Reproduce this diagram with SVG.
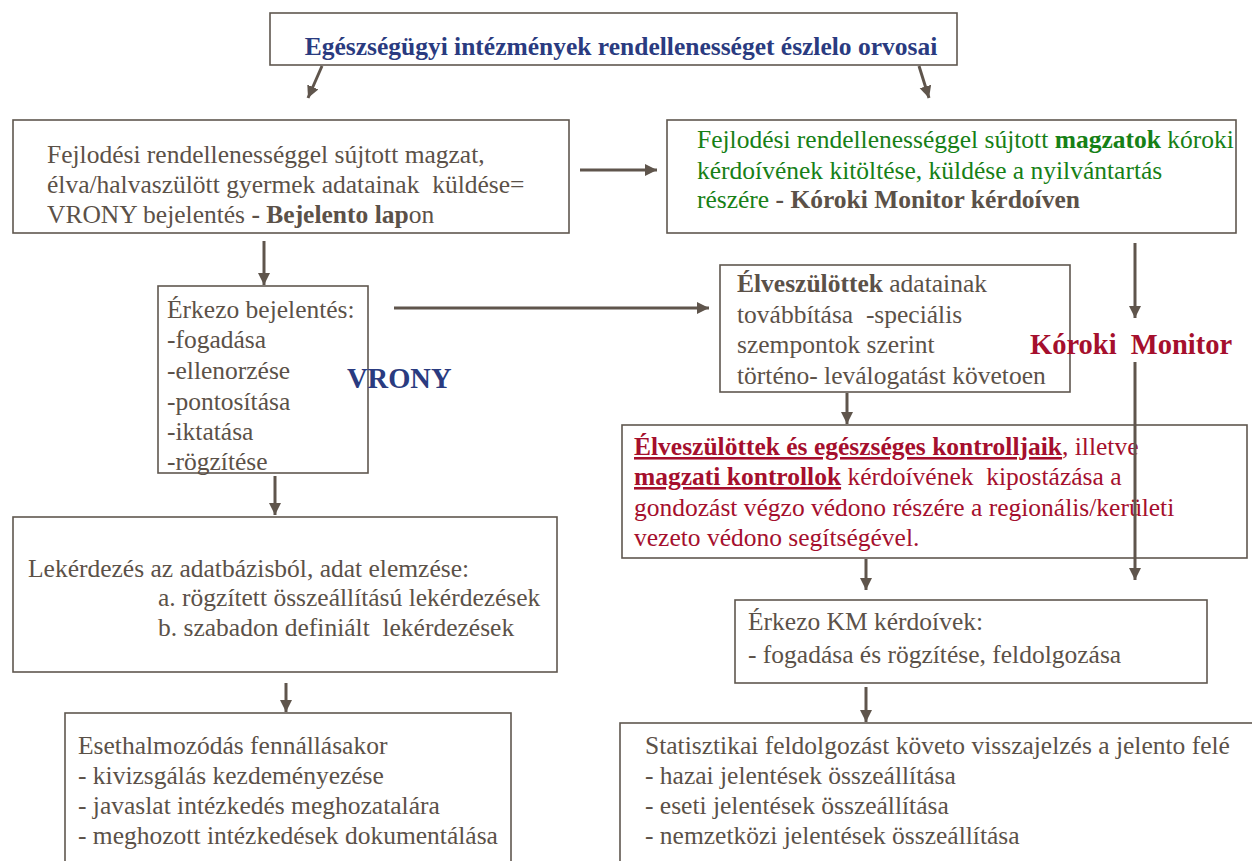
<svg xmlns="http://www.w3.org/2000/svg" width="1252" height="861" viewBox="0 0 1252 861">
<defs>
<style>
.box{fill:#fff;stroke:#5f574f;stroke-width:1.6}
.t{font-family:'Liberation Serif','Times New Roman',Tinos,'DejaVu Serif',serif;font-size:25.5px;font-weight:normal;fill:#5b5148}
.b{font-weight:bold}
.navy{fill:#2a3b80}
.green{fill:#168016}
.red{fill:#a50f2d}
.con{stroke:#5f554c;stroke-width:3;fill:none;marker-end:url(#ah)}
</style>
<marker id="ah" markerUnits="userSpaceOnUse" markerWidth="14" markerHeight="14" refX="12" refY="6" orient="auto"><path d="M0,0 L12,6 L0,12 Z" fill="#5f554c"/></marker>
</defs>
<rect width="1252" height="861" fill="#fff"/>
<g id="n-top">
<rect class="box" x="270" y="13" width="687" height="52"/>
<text class="t b navy" x="621" y="55" text-anchor="middle">Egészségügyi intézmények rendellenességet észlelo orvosai</text>
</g>
<g id="n-bejelentes">
<rect class="box" x="13" y="120" width="556" height="113"/>
<text class="t" x="47" y="163">Fejlodési rendellenességgel sújtott magzat,</text>
<text class="t" x="47" y="193" xml:space="preserve">élva/halvaszülött gyermek adatainak  küldése=</text>
<text class="t" x="47" y="223">VRONY bejelentés <tspan class="b">- Bejelento lap</tspan>on</text>
</g>
<g id="n-koroki-kerdoiv">
<rect class="box" x="667" y="120" width="569" height="113"/>
<text class="t green" x="697" y="148">Fejlodési rendellenességgel sújtott <tspan class="b">magzatok</tspan> kóroki</text>
<text class="t green" x="697" y="179">kérdoívének kitöltése, küldése a nyilvántartás</text>
<text class="t green" x="697" y="208">részére <tspan class="b" fill="#5b5148">- Kóroki Monitor kérdoíven</tspan></text>
</g>
<g id="n-erkezo">
<rect class="box" x="158" y="286" width="210" height="187"/>
<text class="t" x="167" y="318">Érkezo bejelentés:</text>
<text class="t" x="167" y="348">-fogadása</text>
<text class="t" x="167" y="379">-ellenorzése</text>
<text class="t" x="167" y="410">-pontosítása</text>
<text class="t" x="167" y="440">-iktatása</text>
<text class="t" x="167" y="470">-rögzítése</text>
</g>
<g id="n-elveszulottek">
<rect class="box" x="720" y="265" width="350" height="127"/>
<text class="t" x="737" y="292"><tspan class="b">Élveszülöttek</tspan> adatainak</text>
<text class="t" x="737" y="323" xml:space="preserve">továbbítása  -speciális</text>
<text class="t" x="737" y="353">szempontok szerint</text>
<text class="t" x="737" y="384">történo- leválogatást követoen</text>
</g>
<g id="n-kontrollok">
<rect class="box" x="622" y="425" width="625" height="133"/>
<text class="t red" x="634" y="455"><tspan class="b" text-decoration="underline">Élveszülöttek és egészséges kontrolljaik</tspan>, illetve</text>
<text class="t red" x="634" y="485" xml:space="preserve"><tspan class="b" text-decoration="underline">magzati kontrollok</tspan> kérdoívének  kipostázása a</text>
<text class="t red" x="634" y="516">gondozást végzo védono részére a regionális/kerületi</text>
<text class="t red" x="634" y="546">vezeto védono segítségével.</text>
</g>
<g id="n-lekerdezes">
<rect class="box" x="13" y="517" width="544" height="155"/>
<text class="t" x="28" y="577">Lekérdezés az adatbázisból, adat elemzése:</text>
<text class="t" x="158" y="606">a. rögzített összeállítású lekérdezések</text>
<text class="t" x="158" y="636" xml:space="preserve">b. szabadon definiált  lekérdezések</text>
</g>
<g id="n-km-kerdoivek">
<rect class="box" x="735" y="600" width="472" height="83"/>
<text class="t" x="748" y="630">Érkezo KM kérdoívek:</text>
<text class="t" x="748" y="663">- fogadása és rögzítése, feldolgozása</text>
</g>
<g id="n-esethalmozodas">
<rect class="box" x="65" y="713" width="446" height="160"/>
<text class="t" x="78" y="754">Esethalmozódás fennállásakor</text>
<text class="t" x="78" y="784">- kivizsgálás kezdeményezése</text>
<text class="t" x="78" y="814">- javaslat intézkedés meghozatalára</text>
<text class="t" x="78" y="844">- meghozott intézkedések dokumentálása</text>
</g>
<g id="n-statisztika">
<rect class="box" x="620" y="723" width="650" height="150"/>
<text class="t" x="645" y="754">Statisztikai feldolgozást követo visszajelzés a jelento felé</text>
<text class="t" x="645" y="784">- hazai jelentések összeállítása</text>
<text class="t" x="645" y="814">- eseti jelentések összeállítása</text>
<text class="t" x="645" y="844">- nemzetközi jelentések összeállítása</text>
</g>
<g id="connectors">
<line class="con" x1="322" y1="66" x2="308" y2="98"/>
<line class="con" x1="919" y1="66" x2="929" y2="98"/>
<line class="con" x1="580" y1="170" x2="657" y2="170"/>
<line class="con" x1="264" y1="241" x2="264" y2="285"/>
<line class="con" x1="394" y1="308" x2="709" y2="308"/>
<line class="con" x1="1135" y1="243" x2="1135" y2="318"/>
<line class="con" x1="1135" y1="362" x2="1135" y2="580"/>
<line class="con" x1="847" y1="393" x2="847" y2="424"/>
<line class="con" x1="275" y1="476" x2="275" y2="515"/>
<line class="con" x1="866" y1="559" x2="866" y2="590"/>
<line class="con" x1="286" y1="683" x2="286" y2="712"/>
<line class="con" x1="866" y1="687" x2="866" y2="722"/>
</g>
<g id="l-vrony">
<text class="t b navy" x="347" y="388" style="font-size:28.5px">VRONY</text>
</g>
<g id="l-koroki">
<text class="t b red" x="1030" y="354" style="font-size:28.5px" xml:space="preserve">Kóroki  Monitor</text>
</g>
</svg>
